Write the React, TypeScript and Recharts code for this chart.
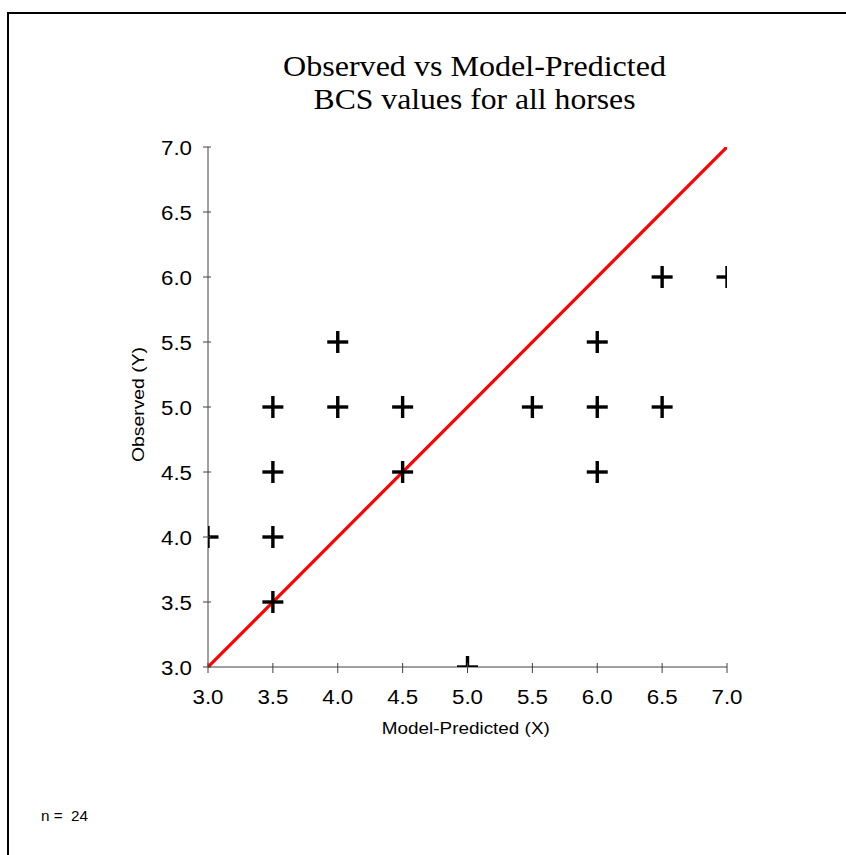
import { ScatterChart, Scatter, XAxis, YAxis } from 'recharts'

// predicted (x) vs observed (y) body condition scores
const predicted = [3.0, 3.5, 3.5, 3.5, 3.5, 4.0, 4.0, 4.5, 4.5, 5.0, 5.5, 6.0, 6.0, 6.0, 6.5, 6.5, 7.0]
const observed = [4.0, 5.0, 4.5, 4.0, 3.5, 5.5, 5.0, 5.0, 4.5, 3.0, 5.0, 5.5, 5.0, 4.5, 6.0, 5.0, 6.0]
const sampleSize = 24

// line of equality
const lineX = [3.0, 7.0]
const lineY = [3.0, 7.0]

const tickValues = [3.0, 3.5, 4.0, 4.5, 5.0, 5.5, 6.0, 6.5, 7.0]

const points = predicted.map((x, i) => ({ x, y: observed[i] }))
const identity = lineX.map((x, i) => ({ x, y: lineY[i] }))

const AXIS = '#404040'
const SANS = '"Liberation Sans", Arial, sans-serif'
const SERIF = '"Liberation Serif", "Times New Roman", serif'

const Plus = (props: any) => {
  const { cx, cy } = props
  if (cx == null || cy == null) return <g />
  return (
    <g stroke="#000" strokeWidth={3.4}>
      <line x1={cx - 10.5} y1={cy} x2={cx + 10.5} y2={cy} />
      <line x1={cx} y1={cy - 11} x2={cx} y2={cy + 11} />
    </g>
  )
}

const XTick = (props: any) => {
  const { x, y, payload } = props
  return (
    <g>
      <line x1={x} y1={y - 4} x2={x} y2={y + 6} stroke={AXIS} />
      <text x={x} y={y + 37} textAnchor="middle" fontFamily={SANS} fontSize={20.5}
        textLength={31} lengthAdjust="spacingAndGlyphs" fill="#000">
        {payload.value.toFixed(1)}
      </text>
    </g>
  )
}

const YTick = (props: any) => {
  const { x, y, payload } = props
  return (
    <g>
      <line x1={x - 5} y1={y} x2={x + 3} y2={y} stroke={AXIS} />
      <text x={x - 16} y={y + 7.5} textAnchor="end" fontFamily={SANS} fontSize={20.5}
        textLength={31} lengthAdjust="spacingAndGlyphs" fill="#000">
        {payload.value.toFixed(1)}
      </text>
    </g>
  )
}

export default function App() {
  return (
    <div style={{ position: 'fixed', left: 0, top: 0, width: 846, height: 855, overflow: 'hidden', background: '#fff' }}>
      {/* frame: only the top and left edges fall inside the page */}
      <div style={{
        position: 'absolute', left: 7, top: 12, width: 1000, height: 1000,
        borderTop: '2px solid #000', borderLeft: '2px solid #000', boxSizing: 'border-box',
      }} />
      <div style={{ position: 'absolute', left: 0, top: 0 }}>
        <ScatterChart width={846} height={855} margin={{ top: 147, right: 119, bottom: 158, left: 148 }}>
          <XAxis type="number" dataKey="x" domain={[3, 7]} ticks={tickValues} allowDataOverflow
            height={30} stroke={AXIS} tickLine={false} tickSize={0} tickMargin={0} tick={<XTick />} />
          <YAxis type="number" dataKey="y" domain={[3, 7]} ticks={tickValues} allowDataOverflow
            width={60} stroke={AXIS} tickLine={false} tickSize={0} tickMargin={0} tick={<YTick />} />
          <Scatter data={identity} isAnimationActive={false} shape={() => <g />}
            line={{ stroke: '#ff0000', strokeWidth: 3.2, strokeLinecap: 'round' }} lineType="joint" />
          <Scatter data={points} isAnimationActive={false} shape={<Plus />} />
        </ScatterChart>
      </div>
      <svg width={846} height={855} style={{ position: 'absolute', left: 0, top: 0, pointerEvents: 'none' }}>
        <g fontFamily={SERIF} fontSize={30} fill="#000" textAnchor="middle">
          <text x={474.5} y={76} textLength={383} lengthAdjust="spacingAndGlyphs">Observed vs Model-Predicted</text>
          <text x={474.5} y={108.5} textLength={322} lengthAdjust="spacingAndGlyphs">BCS values for all horses</text>
        </g>
        <text transform="translate(144,404.5) rotate(-90)" textAnchor="middle" fontFamily={SANS} fontSize={16}
          textLength={115} lengthAdjust="spacingAndGlyphs" fill="#000">Observed (Y)</text>
        <text x={465.8} y={734.3} textAnchor="middle" fontFamily={SANS} fontSize={16}
          textLength={168} lengthAdjust="spacingAndGlyphs" fill="#000">Model-Predicted (X)</text>
        <text x={41} y={821} fontFamily={SANS} fontSize={15} style={{ whiteSpace: 'pre' }}
          textLength={47} lengthAdjust="spacingAndGlyphs" fill="#000">{`n =  ${sampleSize}`}</text>
      </svg>
    </div>
  )
}
